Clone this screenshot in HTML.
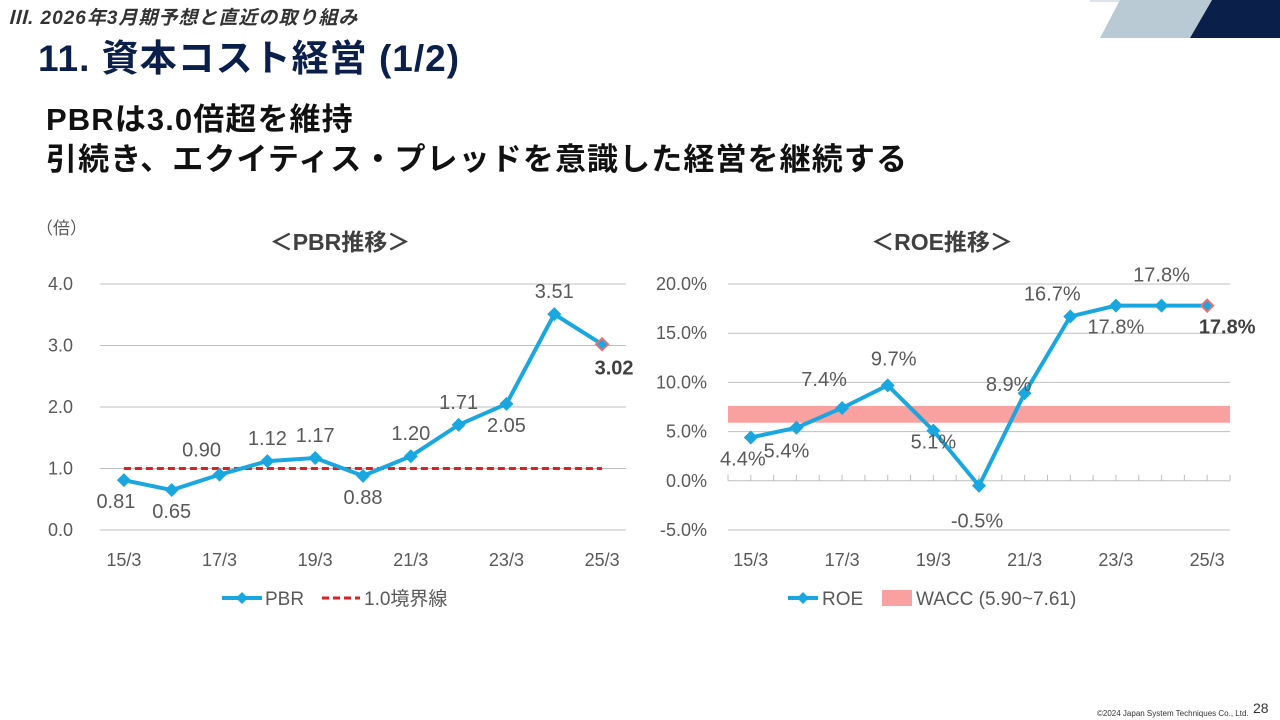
<!DOCTYPE html>
<html><head><meta charset="utf-8">
<style>
body{margin:0;width:1280px;height:720px;overflow:hidden;background:#fff;font-family:"Liberation Sans","Noto Sans CJK JP",sans-serif;position:relative}
.abs{position:absolute;white-space:nowrap}
</style></head><body>
<svg class="abs" style="left:0;top:0" width="1280" height="720">
  <polygon points="1120,0 1212,0 1190,38 1100,38" fill="#b9cad4"/>
  <polygon points="1212,0 1280,0 1280,38 1190,38" fill="#0a1f4a"/>
  <line x1="1090" y1="1" x2="1120" y2="1" stroke="#b9cad4"/>
</svg>
<div class="abs" style="left:8px;top:3px;font-size:19px;letter-spacing:1px;font-style:italic;font-weight:bold;color:#333">Ⅲ. 2026年3月期予想と直近の取り組み</div>
<div class="abs" style="left:38px;top:28px;font-size:37px;letter-spacing:1px;font-weight:bold;color:#0a1f4a">11. 資本コスト経営 (1/2)</div>
<div class="abs" style="left:46px;top:100px;font-size:31px;letter-spacing:1.1px;font-weight:bold;color:#111;line-height:40px">PBRは3.0倍超を維持<br>引続き、エクイティス・プレッドを意識した経営を継続する</div>
<svg class="abs" id="charts" style="left:0;top:0" width="1280" height="720"></svg>
<div class="abs" style="left:1097px;top:709px;font-size:8px;color:#333">©2024 Japan System Techniques Co., Ltd.</div>
<div class="abs" style="left:1253px;top:700px;font-size:14px;color:#333">28</div>
<script>
const categories=["15/3","16/3","17/3","18/3","19/3","20/3","21/3","22/3","23/3","24/3","25/3"];
const xTickLabels=["15/3","17/3","19/3","21/3","23/3","25/3"];
const pbrValues=[0.81,0.65,0.90,1.12,1.17,0.88,1.20,1.71,2.05,3.51,3.02];
const pbrTicks=[0,1,2,3,4];
const pbrThreshold=1.0;
const roeValues=[4.4,5.4,7.4,9.7,5.1,-0.5,8.9,16.7,17.8,17.8,17.8];
const roeTicks=[-5,0,5,10,15,20];
const waccRange=[5.90,7.61];
const NS="http://www.w3.org/2000/svg";
const svg=document.getElementById('charts');
function mk(tag,attrs,parent){const e=document.createElementNS(NS,tag);for(const k in attrs)e.setAttribute(k,attrs[k]);(parent||svg).appendChild(e);return e;}
function txt(x,y,s,size,anchor,weight,color){const t=mk('text',{x:x,y:y,'font-size':size,'text-anchor':anchor||'middle','font-weight':weight||'normal',fill:color||'#595959','font-family':'Liberation Sans, Noto Sans CJK JP, sans-serif'});t.textContent=s;return t;}
function diamond(x,y,r,fill,stroke){return mk('polygon',{points:`${x},${y-r} ${x+r},${y} ${x},${y+r} ${x-r},${y}`,fill:fill,stroke:stroke||'none','stroke-width':2});}
const TK=18, LB=20;
// PBR chart
const P={l:100,r:626,t:284,b:530,min:0,max:4};
const px=i=>P.l+(P.r-P.l)/categories.length*(i+0.5);
const py=v=>P.b-(v-P.min)/(P.max-P.min)*(P.b-P.t);
pbrTicks.forEach(v=>{const g=mk('line',{x1:P.l,x2:P.r,y1:py(v),y2:py(v),stroke:'#bfbfbf','stroke-width':1});
 const t=txt(73,py(v)+6,v.toFixed(1),TK,'end');});
xTickLabels.forEach(s=>{const i=categories.indexOf(s);const t=txt(px(i),566,s,TK);});
const thr=mk('line',{x1:px(0),x2:px(categories.length-1),y1:py(pbrThreshold),y2:py(pbrThreshold),stroke:'#e02020','stroke-width':3,'stroke-dasharray':'7,4'});

const pl=mk('polyline',{points:pbrValues.map((v,i)=>px(i)+','+py(v)).join(' '),fill:'none',stroke:'#1aa7e0','stroke-width':4});

const pbrLabelPos=['b','b','a','a','a','b','a','a','b','a','b'];
pbrValues.forEach((v,i)=>{const last=i===pbrValues.length-1;const d=last?diamond(px(i),py(v),6,'#1aa7e0','#e87070'):diamond(px(i),py(v),7,'#1aa7e0');
 
 const y=pbrLabelPos[i]==='a'?py(v)-16:py(v)+28;const t=txt(px(i)+(last?12:(i===0?-8:(i===2?-18:0))),last?py(v)+30:(i===2?py(v)-18:y),v.toFixed(2),LB,'middle',last?'bold':'normal',last?'#404040':'#595959');
 });
let t=txt(340,250,'＜PBR推移＞',23,'middle','bold','#404040');
t=txt(36,234,'（倍）',17,'start');
// PBR legend
mk('line',{x1:222,x2:262,y1:598,y2:598,stroke:'#1aa7e0','stroke-width':4});diamond(242,598,6,'#1aa7e0');
t=txt(265,605,'PBR',19,'start');
mk('line',{x1:322,x2:360,y1:598,y2:598,stroke:'#e02020','stroke-width':3,'stroke-dasharray':'7,4'});
t=txt(364,605,'1.0境界線',19,'start');
// ROE chart
const R={l:728,r:1230,t:284,b:530,min:-5,max:20};
const rx=i=>R.l+(R.r-R.l)/categories.length*(i+0.5);
const ry=v=>R.b-(v-R.min)/(R.max-R.min)*(R.b-R.t);
roeTicks.forEach(v=>{if(v!==0){const g=mk('line',{x1:R.l,x2:R.r,y1:ry(v),y2:ry(v),stroke:'#bfbfbf','stroke-width':1});}
 const t=txt(707,ry(v)+6,v.toFixed(1)+'%',TK,'end');});
const ax=mk('line',{x1:R.l,x2:R.r,y1:ry(0),y2:ry(0),stroke:'#bfbfbf'});
for(let k=0;k<=categories.length*2;k++){const x=R.l+(R.r-R.l)/(categories.length*2)*k;mk('line',{x1:x,x2:x,y1:ry(0),y2:ry(0)-6,stroke:'#bfbfbf'});}
const band=mk('rect',{x:R.l,y:ry(waccRange[1]),width:R.r-R.l,height:ry(waccRange[0])-ry(waccRange[1]),fill:'#f9a0a0'});

xTickLabels.forEach(s=>{const i=categories.indexOf(s);const t=txt(rx(i),566,s,TK);});
const rl=mk('polyline',{points:roeValues.map((v,i)=>rx(i)+','+ry(v)).join(' '),fill:'none',stroke:'#1aa7e0','stroke-width':4});

const roeOff=[[-8,28],[-10,30],[-18,-22],[6,-20],[0,18],[-2,42],[-16,-2],[-18,-16],[0,28],[0,-24],[20,28]];
roeValues.forEach((v,i)=>{const last=i===roeValues.length-1;const d=last?diamond(rx(i),ry(v),6,'#1aa7e0','#e87070'):diamond(rx(i),ry(v),7,'#1aa7e0');
 
 const t=txt(rx(i)+roeOff[i][0],ry(v)+roeOff[i][1],v.toFixed(1)+'%',LB,'middle',last?'bold':'normal',last?'#404040':'#595959');
 });
t=txt(942,250,'＜ROE推移＞',23,'middle','bold','#404040');
mk('line',{x1:788,x2:818,y1:598,y2:598,stroke:'#1aa7e0','stroke-width':4});diamond(803,598,6,'#1aa7e0');
t=txt(822,605,'ROE',19,'start');
mk('rect',{x:882,y:590,width:30,height:16,fill:'#f9a0a0'});
t=txt(916,605,'WACC (5.90~7.61)',19,'start');
</script>
</body></html>
